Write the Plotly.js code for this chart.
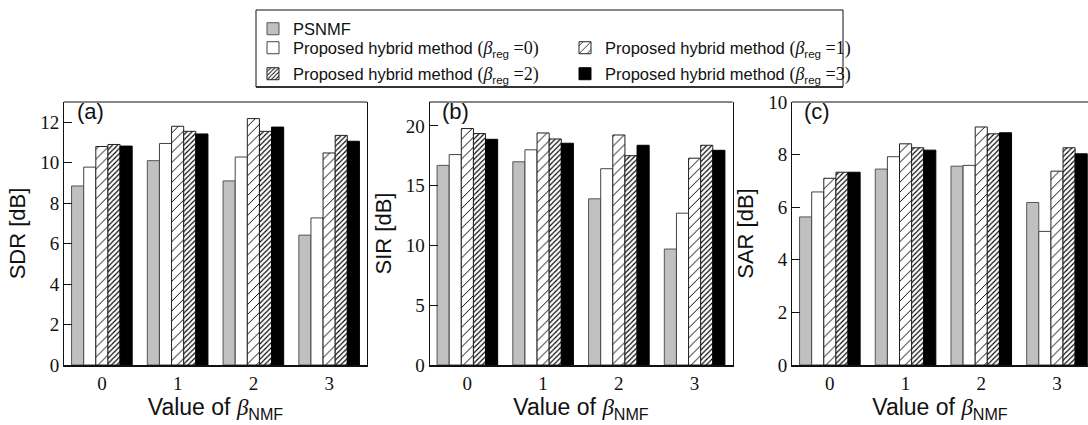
<!DOCTYPE html>
<html>
<head>
<meta charset="utf-8">
<script src="https://cdn.plot.ly/plotly-3.0.1.min.js"></script>
<style>html,body{margin:0;padding:0;background:#fff;}#chart{width:1088px;height:425px;}</style>
</head>
<body>
<div id="chart"></div>
<script>
// ---- data ----
const categories = [0, 1, 2, 3];
const tickLabels = ['0', '1', '2', '3'];
const SERIF = "'Liberation Serif', 'Times New Roman', 'DejaVu Serif', serif";
const serifSpan = (t, sz) => '<span style="font-family:Liberation Serif, Times New Roman, serif' + (sz ? ';font-size:' + sz + 'px' : '') + '">' + t + '</span>';
const seriesNames = [
  'PSNMF',
  'Proposed hybrid method ' + serifSpan('(<i>β</i>', 18) + '<sub>reg</sub>' + serifSpan(' =0)', 18),
  'Proposed hybrid method ' + serifSpan('(<i>β</i>', 18) + '<sub>reg</sub>' + serifSpan(' =1)', 18),
  'Proposed hybrid method ' + serifSpan('(<i>β</i>', 18) + '<sub>reg</sub>' + serifSpan(' =2)', 18),
  'Proposed hybrid method ' + serifSpan('(<i>β</i>', 18) + '<sub>reg</sub>' + serifSpan(' =3)', 18)
];
// SDR [dB]
const sdrPSNMF = [8.85, 10.1, 9.1, 6.42];
const sdrReg0  = [9.78, 10.95, 10.28, 7.27];
const sdrReg1  = [10.8, 11.8, 12.18, 10.48];
const sdrReg2  = [10.9, 11.55, 11.55, 11.35];
const sdrReg3  = [10.82, 11.42, 11.76, 11.06];
// SIR [dB]
const sirPSNMF = [16.7, 17.0, 13.9, 9.7];
const sirReg0  = [17.6, 18.0, 16.42, 12.7];
const sirReg1  = [19.78, 19.41, 19.24, 17.3];
const sirReg2  = [19.36, 18.91, 17.51, 18.38];
const sirReg3  = [18.88, 18.55, 18.38, 17.96];
// SAR [dB]
const sarPSNMF = [5.63, 7.45, 7.56, 6.18];
const sarReg0  = [6.58, 7.92, 7.59, 5.08];
const sarReg1  = [7.1, 8.41, 9.05, 7.37];
const sarReg2  = [7.33, 8.26, 8.79, 8.26];
const sarReg3  = [7.33, 8.17, 8.83, 8.03];

const panelData = [
  [sdrPSNMF, sdrReg0, sdrReg1, sdrReg2, sdrReg3],
  [sirPSNMF, sirReg0, sirReg1, sirReg2, sirReg3],
  [sarPSNMF, sarReg0, sarReg1, sarReg2, sarReg3]
];

// ---- styles ----
const W = 1088, H = 425;
const px = v => v / W, py = v => 1 - v / H;
const markerStyles = [
  {color: '#c0c0c0', line: {color: '#555', width: 1}},
  {color: '#ffffff', line: {color: '#444', width: 1}},
  {color: '#ffffff', line: {color: '#222', width: 1}, pattern: {shape: '/', size: 7, solidity: 0.14, fgcolor: '#000', bgcolor: '#fff', fillmode: 'replace'}},
  {color: '#ffffff', line: {color: '#222', width: 1}, pattern: {shape: '/', size: 3.6, solidity: 0.32, fgcolor: '#000', bgcolor: '#fff', fillmode: 'replace'}},
  {color: '#000000', line: {color: '#000', width: 1}}
];
const legendIds = ['legend', 'legend2', 'legend3', 'legend4', 'legend5'];
const axSuffix = ['', '2', '3'];

const traces = [];
panelData.forEach((series, p) => {
  series.forEach((vals, s) => {
    traces.push({
      type: 'bar',
      x: categories,
      y: vals,
      name: seriesNames[s],
      marker: markerStyles[s],
      xaxis: 'x' + axSuffix[p],
      yaxis: 'y' + axSuffix[p],
      showlegend: p === 0,
      legend: legendIds[s],
      hoverinfo: 'skip'
    });
  });
});

const tickFont = {family: SERIF, size: 19, color: '#111'};
const titleFont = {family: 'Liberation Sans', size: 22, color: '#111'};
const xTitleFont = {family: 'Liberation Sans', size: 23, color: '#111'};
const xTitle = 'Value of ' + serifSpan('<i>β</i>') + '<sub>NMF</sub>';
const yDomain = [py(365), py(102)];
const xDomains = [[px(64), px(367)], [px(429.5), px(732.5)], [px(792), 1]];
const xRanges = [[-0.5, 3.5], [-0.5, 3.5], [-0.5, 3.41]];
const yRanges = [[0, 13], [0, 22], [0, 10]];
const yDticks = [2, 5, 2];
const yTitles = ['SDR [dB]', 'SIR [dB]', 'SAR [dB]'];
const panelLabels = ['(a)', '(b)', '(c)'];

const layout = {
  width: W, height: H,
  margin: {l: 0, r: 0, t: 0, b: 0},
  paper_bgcolor: '#fff', plot_bgcolor: '#fff',
  barmode: 'group', bargap: 0.2, bargroupgap: 0,
  font: {family: 'Liberation Sans', color: '#111'},
  shapes: [], annotations: []
};

for (let p = 0; p < 3; p++) {
  const s = axSuffix[p];
  layout['xaxis' + s] = {
    domain: xDomains[p], range: xRanges[p], anchor: 'y' + s,
    tickvals: categories, ticktext: tickLabels, ticks: '',
    ticklabelstandoff: 0,
    showline: true, linewidth: 2, linecolor: '#111', mirror: false,
    showgrid: false, zeroline: false, fixedrange: true,
    tickfont: tickFont,
    title: {text: xTitle, font: xTitleFont, standoff: 6}
  };
  layout['yaxis' + s] = {
    domain: yDomain, range: yRanges[p], dtick: yDticks[p], anchor: 'x' + s,
    ticks: 'inside', ticklen: 8, tickwidth: 1, tickcolor: '#111',
    showline: true, linewidth: 1, linecolor: '#111', mirror: p < 2,
    showgrid: false, zeroline: false, fixedrange: true,
    tickfont: tickFont,
    title: {text: yTitles[p], font: titleFont, standoff: 8}
  };
  layout.shapes.push({type: 'line', xref: 'x' + s + ' domain', yref: 'y' + s + ' domain',
    x0: 0, x1: 1, y0: 1, y1: 1, line: {color: '#111', width: 1}});
  layout.annotations.push({text: panelLabels[p], xref: 'x' + s + ' domain', yref: 'y' + s + ' domain',
    x: 0.035, y: 1.02, xanchor: 'left', yanchor: 'top', showarrow: false,
    font: {family: 'Liberation Sans', size: 22, color: '#111'}});
}

// legend box
layout.shapes.push({type: 'rect', xref: 'paper', yref: 'paper',
  x0: px(256), x1: px(843), y0: py(87), y1: py(10), line: {color: '#111', width: 1}});
layout.shapes.push({type: 'line', xref: 'paper', yref: 'paper',
  x0: px(256), x1: px(843), y0: py(87), y1: py(87), line: {color: '#333', width: 2}});

// five single-entry legends placed like the reference grid
const legendPos = [[253, 29], [253, 48], [565, 48], [253, 74], [565, 74]];
legendIds.forEach((id, i) => {
  layout[id] = {
    x: px(legendPos[i][0]), y: py(legendPos[i][1]), xanchor: 'left', yanchor: 'middle',
    bgcolor: 'rgba(0,0,0,0)', borderwidth: 0,
    font: {family: 'Liberation Sans', size: 16.5, color: '#111'},
    itemwidth: 30, tracegroupgap: 0
  };
});

Plotly.newPlot('chart', traces, layout, {displayModeBar: false, staticPlot: true});
</script>
</body>
</html>
